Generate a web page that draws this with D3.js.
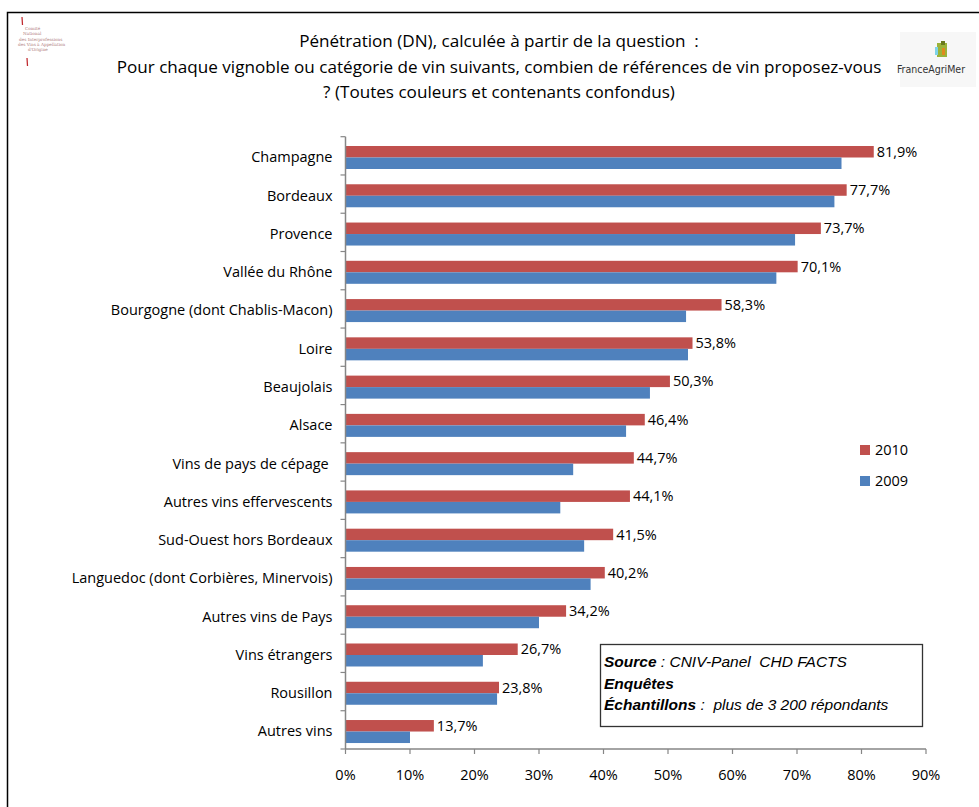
<!DOCTYPE html>
<html><head><meta charset="utf-8">
<script src="https://cdn.jsdelivr.net/npm/d3@7"></script>
<style>
html,body{margin:0;padding:0;background:#fff;}
svg{display:block;}
text{white-space:pre;}
</style></head>
<body>
<svg id="chart" width="979" height="807"></svg>
<script>
const categories = ["Champagne","Bordeaux","Provence","Vallée du Rhône","Bourgogne (dont Chablis-Macon)","Loire","Beaujolais","Alsace","Vins de pays de cépage ","Autres vins effervescents","Sud-Ouest hors Bordeaux","Languedoc (dont Corbières, Minervois)","Autres vins de Pays","Vins étrangers","Rousillon","Autres vins"];
const values2010 = [81.9,77.7,73.7,70.1,58.3,53.8,50.3,46.4,44.7,44.1,41.5,40.2,34.2,26.7,23.8,13.7];
const values2009 = [76.9,75.8,69.7,66.8,52.8,53.1,47.2,43.5,35.3,33.3,37.0,38.0,30.0,21.3,23.5,10.0];
const seriesNames = ["2010","2009"];
const xTicks = [0,10,20,30,40,50,60,70,80,90];
const titleLines = ["Pénétration (DN), calculée à partir de la question  :","Pour chaque vignoble ou catégorie de vin suivants, combien de références de vin proposez-vous","? (Toutes couleurs et contenants confondus)"];

const RED="#c0504d", BLUE="#4f81bd", AXIS="#868686";
const FONT="'Open Sans', sans-serif";
const FS=14.5;
const svg=d3.select("#chart");

svg.append("path").attr("d","M7.5,807 L7.5,12.5 L979,12.5").attr("fill","none").attr("stroke","#000").attr("stroke-width",1.5);

svg.append("g").selectAll("text").data(titleLines).join("text")
  .attr("x",499).attr("y",(d,i)=>47+i*25.5).attr("text-anchor","middle")
  .attr("font-family",FONT).attr("font-size",17.1).attr("fill","#000").text(d=>d);

const x=d3.scaleLinear().domain([0,90]).range([345.5,926]);
const y=d3.scaleBand().domain(categories).range([136.7,749]);
const sub=d3.scaleBand().domain(seriesNames).range([0,23]);

const g=svg.append("g");
const rows=g.selectAll("g.row").data(categories).join("g").attr("class","row")
  .attr("transform",d=>`translate(0,${y(d)+9.3})`);
rows.append("rect").attr("x",x(0)).attr("y",sub("2010")).attr("height",sub.bandwidth())
  .attr("width",(d,i)=>x(values2010[i])-x(0)).attr("fill",RED);
rows.append("rect").attr("x",x(0)).attr("y",sub("2009")).attr("height",sub.bandwidth())
  .attr("width",(d,i)=>x(values2009[i])-x(0)).attr("fill",BLUE);
rows.append("text").attr("x",(d,i)=>x(values2010[i])+3).attr("y",sub("2010")+sub.bandwidth()/2)
  .attr("dy","0.35em").attr("font-family",FONT).attr("font-size",FS).attr("fill","#000")
  .text((d,i)=>d3.format(".1f")(values2010[i]).replace(".",",")+"%");

const yAxis=g.append("g").attr("transform",`translate(${x(0)},0)`);
yAxis.append("line").attr("x1",0).attr("x2",0).attr("y1",y.range()[0]).attr("y2",y.range()[1]).attr("stroke",AXIS).attr("stroke-width",1.5);
const bounds=categories.map(c=>y(c)).concat([y.range()[1]]);
yAxis.selectAll("line.t").data(bounds).join("line").attr("class","t")
  .attr("x1",-5).attr("x2",0).attr("y1",d=>d).attr("y2",d=>d).attr("stroke",AXIS).attr("stroke-width",1.2);
yAxis.selectAll("text").data(categories).join("text")
  .attr("x",-13).attr("y",d=>y(d)+y.bandwidth()/2+1.5).attr("dy","0.35em").attr("text-anchor","end")
  .attr("font-family",FONT).attr("font-size",FS).attr("fill","#000").text(d=>d);

const xAxis=g.append("g").attr("transform",`translate(0,${y.range()[1]})`);
xAxis.append("line").attr("x1",x(0)).attr("x2",x(90)).attr("stroke",AXIS).attr("stroke-width",1.5);
xAxis.selectAll("line.t").data(xTicks).join("line").attr("class","t")
  .attr("x1",d=>x(d)).attr("x2",d=>x(d)).attr("y1",0).attr("y2",5).attr("stroke",AXIS).attr("stroke-width",1.2);
xAxis.selectAll("text").data(xTicks).join("text")
  .attr("x",d=>x(d)).attr("y",31).attr("text-anchor","middle")
  .attr("font-family",FONT).attr("font-size",FS).attr("fill","#000").text(d=>d+"%");

const leg=svg.append("g");
seriesNames.forEach((s,i)=>{
  leg.append("rect").attr("x",860).attr("y",445+i*31).attr("width",10).attr("height",10).attr("fill",s==="2010"?RED:BLUE);
  leg.append("text").attr("x",875).attr("y",450+i*31).attr("dy","0.35em").attr("font-family",FONT).attr("font-size",FS).text(s);
});

const sb=svg.append("g");
sb.append("rect").attr("x",600.5).attr("y",644.5).attr("width",322).attr("height",82).attr("fill","#fff").attr("stroke","#333").attr("stroke-width",1.3);
const AR="'Liberation Sans', Arial, sans-serif";
const SFS=15.5;
const l1=sb.append("text").attr("x",604).attr("y",667).attr("font-family",AR).attr("font-size",SFS).attr("font-style","italic");
l1.append("tspan").attr("font-weight","bold").text("Source");
l1.append("tspan").text(" : CNIV-Panel  CHD FACTS");
sb.append("text").attr("x",604).attr("y",689).attr("font-family",AR).attr("font-size",SFS).attr("font-style","italic").attr("font-weight","bold").text("Enquêtes");
const l3=sb.append("text").attr("x",604).attr("y",710).attr("font-family",AR).attr("font-size",SFS).attr("font-style","italic");
l3.append("tspan").attr("font-weight","bold").text("Échantillons");
l3.append("tspan").text(" :  plus de 3 200 répondants");

const ll=svg.append("g");
ll.append("line").attr("x1",22).attr("x2",22.5).attr("y1",17).attr("y2",25).attr("stroke","#c0282d").attr("stroke-width",1.3);
ll.append("line").attr("x1",27).attr("x2",27.5).attr("y1",58).attr("y2",66).attr("stroke","#c0282d").attr("stroke-width",1.3);
["Comité","National","des Interprofessions","des Vins à Appellation","d'Origine"].forEach((t,i)=>{
  ll.append("text").attr("x",[25,23,19,18,28][i]).attr("y",30+i*5.3).attr("font-family","'DejaVu Serif',serif").attr("font-size",4.2).attr("fill","#b08080").text(t);
});

const rl=svg.append("g");
rl.append("rect").attr("x",900).attr("y",32).attr("width",76).attr("height",55).attr("fill","#f7f7f7");
rl.append("rect").attr("x",937).attr("y",43).attr("width",10).attr("height",14).attr("fill","#9bb33a");
rl.append("rect").attr("x",941).attr("y",41).attr("width",4).attr("height",4).attr("fill","#6b7a1e");
rl.append("rect").attr("x",942).attr("y",48).attr("width",3).attr("height",7).attr("fill","#e08a1e");
rl.append("rect").attr("x",935).attr("y",47).attr("width",3).attr("height",8).attr("fill","#7fd3e8");
rl.append("text").attr("x",931).attr("y",73).attr("text-anchor","middle").attr("font-family","'Liberation Sans Narrow', 'DejaVu Sans Condensed', Lato, sans-serif").attr("font-size",10.5).attr("fill","#333").text("FranceAgriMer");
</script>
</body></html>
